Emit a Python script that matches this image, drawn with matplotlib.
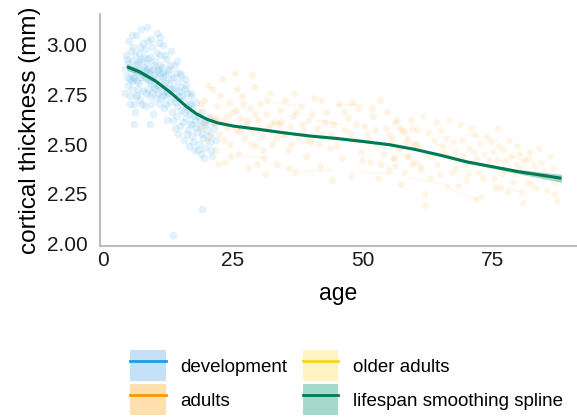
import matplotlib
matplotlib.use("Agg")
import matplotlib.pyplot as plt
from matplotlib.patches import Patch
from matplotlib.lines import Line2D
from matplotlib.legend_handler import HandlerTuple

plt.rcParams['font.family'] = ['Liberation Sans', 'DejaVu Sans']

# ---------------- data ----------------
dev_age = [4.2, 4.5, 4.8, 5.0, 5.1, 5.3, 5.5, 5.6, 5.8, 6.0, 6.1, 6.3, 6.4, 6.6, 6.7, 6.9, 7.0, 7.1, 7.3, 7.4,
           7.6, 7.7, 7.9, 8.0, 8.1, 8.3, 8.4, 8.6, 8.7, 8.8, 9.0, 9.1, 9.3, 9.4, 9.6, 9.7, 9.9, 10.0, 10.2, 10.3,
           10.5, 10.6, 10.8, 10.9, 11.1, 11.2, 11.4, 11.5, 11.7, 11.8, 12.0, 12.1, 12.3, 12.4, 12.6, 12.7, 12.9, 13.0, 13.2, 13.3,
           13.5, 13.6, 13.8, 13.9, 14.1, 14.2, 14.4, 14.5, 14.7, 14.8, 15.0, 15.1, 15.3, 15.4, 15.6, 15.7, 15.9, 16.0, 16.2, 16.3,
           16.5, 16.6, 16.8, 16.9, 17.1, 17.2, 17.4, 17.5, 17.7, 17.8, 18.0, 18.2, 18.4, 18.6, 18.8, 19.0, 19.2, 19.4, 19.7, 20.0,
           20.3, 20.6, 21.0, 21.4, 19.0, 13.5, 5.5, 8.5, 11.0, 6.0, 9.0, 7.2, 8.2, 10.4, 12.2, 6.8, 9.5, 11.6, 14.0, 5.2,
           4.3, 4.6, 4.9, 5.2, 5.4, 5.7, 5.9, 6.2, 6.5, 6.8, 7.2, 7.5, 7.8, 8.2, 8.5, 8.9, 9.2, 9.5, 9.8, 10.1,
           10.4, 10.7, 11.0, 11.3, 11.6, 11.9, 12.2, 12.5, 12.8, 13.1, 13.4, 13.7, 14.0, 14.3, 14.6, 14.9, 15.2, 15.5, 15.8, 16.1,
           16.4, 16.7, 17.0, 17.3, 17.6, 17.9, 18.3, 18.7, 19.1, 19.5, 19.9, 20.4, 20.8, 21.2, 21.8, 6.0, 7.0, 8.0, 9.0, 10.0,
           11.0, 12.0, 7.5, 8.7, 9.8, 6.5, 5.5, 10.5, 11.5, 12.5, 4.7, 6.3, 7.7, 9.3, 10.8, 12.9, 14.2, 15.0, 16.0, 17.0]
dev_ct = [2.88, 2.95, 2.80, 3.02, 2.70, 2.86, 2.92, 2.78, 2.99, 2.84, 2.66, 2.90, 3.05, 2.75, 2.87, 2.96, 2.81, 2.72, 2.93, 3.08,
          2.85, 2.77, 2.89, 2.98, 2.69, 2.83, 2.91, 3.02, 2.78, 2.86, 2.94, 2.74, 2.81, 2.99, 2.88, 2.65, 2.79, 2.92, 2.84, 3.06,
          2.76, 2.87, 2.70, 2.95, 2.82, 2.73, 2.89, 3.00, 2.79, 2.68, 2.85, 2.93, 2.75, 2.62, 2.81, 2.88, 2.71, 2.97, 2.78, 2.66,
          2.84, 2.73, 2.58, 2.90, 2.76, 2.69, 2.82, 2.55, 2.74, 2.86, 2.67, 2.79, 2.61, 2.72, 2.52, 2.83, 2.69, 2.63, 2.76, 2.57,
          2.70, 2.49, 2.65, 2.74, 2.60, 2.54, 2.68, 2.47, 2.62, 2.71, 2.56, 2.64, 2.50, 2.59, 2.45, 2.66, 2.53, 2.61, 2.48, 2.57,
          2.63, 2.51, 2.44, 2.58, 2.17, 2.04, 3.05, 3.09, 3.04, 2.60, 2.60, 2.84, 2.87, 2.80, 2.77, 2.91, 2.83, 2.86, 2.71, 2.83,
          2.76, 2.84, 2.91, 2.74, 2.97, 2.83, 2.70, 2.95, 2.82, 2.78, 2.99, 2.70, 2.94, 2.76, 2.88, 2.82, 3.03, 2.76, 2.85, 2.73,
          2.96, 2.80, 2.90, 2.77, 2.84, 2.95, 2.70, 2.87, 2.78, 2.83, 2.62, 2.79, 2.86, 2.64, 2.77, 2.59, 2.74, 2.66, 2.78, 2.55,
          2.67, 2.60, 2.70, 2.51, 2.64, 2.58, 2.47, 2.62, 2.55, 2.43, 2.60, 2.54, 2.47, 2.61, 2.52, 2.88, 2.92, 2.84, 2.87, 2.78,
          2.86, 2.81, 2.88, 2.93, 2.90, 2.86, 2.82, 2.88, 2.74, 2.76, 2.93, 2.74, 3.01, 2.70, 3.01, 2.90, 2.92, 2.85, 2.80, 2.76]

adult_age = [18.5, 19.0, 19.5, 20.0, 20.5, 21.0, 21.3, 21.7, 22.0, 22.4, 22.8, 23.1, 23.5, 23.8, 24.2, 24.5, 24.9, 25.3, 25.6, 26.0,
             26.4, 26.8, 27.1, 27.5, 27.9, 28.3, 28.7, 29.0, 29.4, 29.8, 30.2, 30.6, 31.0, 31.4, 31.8, 32.2, 32.6, 33.0, 33.5, 34.0,
             34.5, 35.0, 35.5, 36.0, 36.5, 37.0, 37.5, 38.0, 38.5, 39.0, 39.5, 40.0, 40.6, 41.2, 41.8, 42.4, 43.0, 43.6, 44.2, 44.8,
             45.4, 46.0, 46.6, 47.2, 47.8, 48.4, 49.0, 49.6, 50.2, 50.8, 51.4, 52.0, 52.6, 53.2, 53.8, 54.4, 55.0, 55.6, 56.2, 56.8,
             57.4, 58.0, 58.6, 59.2, 60.0, 61.0, 62.0, 28.6, 24.0, 21.5, 26.5, 33.8,
             18.8, 19.8, 20.8, 21.8, 22.6, 23.3, 24.0, 24.7, 25.5, 26.2, 27.0, 27.7, 28.5, 29.2, 30.0, 30.8, 31.6, 32.4, 33.2, 34.2,
             35.2, 36.2, 37.2, 38.2, 39.2, 40.3, 41.5, 42.7, 43.9, 45.1, 46.3, 47.5, 48.7, 49.9, 51.1, 52.3, 53.5, 54.7, 55.9, 57.1,
             58.3, 59.5, 60.5, 20.2, 22.2, 25.8, 31.2, 36.8, 42.0, 48.0, 51.8, 44.0, 35.8, 29.6, 53.0]
adult_ct = [2.66, 2.58, 2.72, 2.52, 2.64, 2.78, 2.60, 2.47, 2.69, 2.55, 2.83, 2.62, 2.41, 2.58, 2.71, 2.50, 2.66, 2.86, 2.57, 2.45,
            2.63, 2.74, 2.53, 2.60, 2.38, 2.68, 2.56, 2.79, 2.49, 2.62, 2.70, 2.54, 2.43, 2.65, 2.58, 2.76, 2.50, 2.61, 2.40, 2.67,
            2.55, 2.72, 2.47, 2.59, 2.64, 2.36, 2.53, 2.69, 2.57, 2.44, 2.62, 2.51, 2.73, 2.58, 2.39, 2.55, 2.66, 2.48, 2.60, 2.53,
            2.70, 2.43, 2.57, 2.63, 2.34, 2.52, 2.68, 2.46, 2.59, 2.55, 2.41, 2.64, 2.50, 2.72, 2.45, 2.58, 2.37, 2.53, 2.61, 2.48,
            2.30, 2.56, 2.44, 2.62, 2.50, 2.39, 2.19, 2.85, 2.64, 2.62, 2.58, 2.60,
            2.70, 2.61, 2.55, 2.63, 2.75, 2.52, 2.60, 2.44, 2.67, 2.56, 2.70, 2.62, 2.50, 2.65, 2.58, 2.47, 2.72, 2.60, 2.53, 2.61,
            2.55, 2.50, 2.66, 2.60, 2.52, 2.65, 2.50, 2.61, 2.55, 2.49, 2.66, 2.55, 2.60, 2.42, 2.52, 2.57, 2.40, 2.66, 2.43, 2.58,
            2.51, 2.40, 2.57, 2.80, 2.40, 2.78, 2.35, 2.76, 2.72, 2.71, 2.68, 2.32, 2.38, 2.40, 2.33]

older_age = [55.0, 55.8, 56.5, 57.2, 58.0, 58.7, 59.4, 60.1, 60.8, 61.5, 62.2, 62.9, 63.6, 64.3, 65.0, 65.6, 66.2, 66.8, 67.4, 68.0,
             68.6, 69.2, 69.8, 70.4, 71.0, 71.6, 72.2, 72.8, 73.4, 74.0, 74.6, 75.2, 75.8, 76.4, 77.0, 77.6, 78.2, 78.8, 79.4, 80.0,
             80.6, 81.2, 81.8, 82.4, 83.0, 83.8, 84.6, 85.5, 86.5, 87.3, 87.0,
             55.4, 56.1, 57.6, 58.4, 59.8, 61.1, 62.6, 63.2, 64.0, 64.8, 65.3, 66.0, 67.1, 67.8, 68.3, 69.0, 69.6, 70.2, 70.8, 71.3,
             72.0, 72.5, 73.1, 73.8, 74.3, 75.0, 75.5, 76.1, 76.8, 77.3, 78.0, 78.5, 79.1, 79.7, 80.3, 81.0, 81.5, 82.1, 82.8, 83.4,
             84.2, 85.0, 86.0, 86.8, 88.0, 66.5, 71.8, 76.0, 80.8, 62.0]
older_ct = [2.55, 2.43, 2.62, 2.48, 2.36, 2.53, 2.58, 2.41, 2.49, 2.64, 2.45, 2.33, 2.52, 2.40, 2.57, 2.46, 2.29, 2.43, 2.51, 2.38,
            2.60, 2.44, 2.32, 2.48, 2.41, 2.55, 2.36, 2.24, 2.45, 2.39, 2.51, 2.33, 2.42, 2.28, 2.47, 2.37, 2.52, 2.31, 2.40, 2.45,
            2.26, 2.36, 2.43, 2.30, 2.39, 2.48, 2.34, 2.27, 2.38, 2.21, 2.31,
            2.50, 2.39, 2.57, 2.44, 2.50, 2.37, 2.56, 2.44, 2.61, 2.35, 2.49, 2.53, 2.36, 2.46, 2.29, 2.52, 2.40, 2.35, 2.58, 2.46,
            2.43, 2.50, 2.33, 2.54, 2.42, 2.46, 2.28, 2.49, 2.35, 2.42, 2.26, 2.44, 2.35, 2.49, 2.38, 2.42, 2.31, 2.46, 2.35, 2.28,
            2.41, 2.36, 2.44, 2.25, 2.33, 2.62, 2.22, 2.58, 2.20, 2.25]

# longitudinal segments (start age, end age, start ct, end ct)
adult_seg_age0 = [45.0, 38.0, 33.0, 27.0, 50.0, 41.0]
adult_seg_age1 = [50.0, 44.0, 37.0, 31.0, 55.0, 46.0]
adult_seg_ct0 = [2.70, 2.36, 2.71, 2.44, 2.36, 2.62]
adult_seg_ct1 = [2.70, 2.37, 2.69, 2.43, 2.35, 2.60]
older_seg_age0 = [59.0, 70.0, 64.0, 75.0, 78.0, 67.0]
older_seg_age1 = [65.0, 76.0, 69.0, 80.0, 83.0, 72.0]
older_seg_ct0 = [2.33, 2.55, 2.50, 2.30, 2.44, 2.27]
older_seg_ct1 = [2.30, 2.52, 2.47, 2.26, 2.40, 2.22]

spline_age = [4.6, 7, 10, 13, 16, 18, 20, 22, 25, 30, 35, 40, 45, 50, 55, 60, 65, 70, 75, 80, 85, 88.2]
spline_ct = [2.89, 2.865, 2.82, 2.76, 2.69, 2.652, 2.625, 2.607, 2.591, 2.574, 2.556, 2.54, 2.528, 2.513,
             2.497, 2.473, 2.443, 2.41, 2.385, 2.36, 2.34, 2.327]
spline_se = [0.018, 0.012, 0.008, 0.007, 0.007, 0.006, 0.006, 0.005, 0.005, 0.005, 0.005, 0.005, 0.005, 0.005,
             0.005, 0.005, 0.006, 0.007, 0.008, 0.011, 0.016, 0.021]

labels = ["development", "adults", "older adults", "lifespan smoothing spline"]
line_colors = ["#1E9BE9", "#F59B00", "#FFD21F", "#007A55"]
fill_colors = ["#C5E1F7", "#FFDFAE", "#FFF3C4", "#A5D9CC"]
point_colors = ["#56B4E9", "#FFA533", "#FFB84D"]

# ---------------- figure ----------------
fig = plt.figure(figsize=(5.77, 4.18), dpi=100)
ax = fig.add_axes([100 / 577, 1 - 246 / 418, 1 - 100 / 577, (246 - 14.5) / 418])

for a0, a1, c0, c1 in zip(adult_seg_age0, adult_seg_age1, adult_seg_ct0, adult_seg_ct1):
    ax.plot([a0, a1], [c0, c1], color=point_colors[1], alpha=0.12, lw=1)
for a0, a1, c0, c1 in zip(older_seg_age0, older_seg_age1, older_seg_ct0, older_seg_ct1):
    ax.plot([a0, a1], [c0, c1], color=point_colors[2], alpha=0.12, lw=1)

ax.scatter(adult_age, adult_ct, s=24, color=point_colors[1], alpha=0.13, linewidths=0)
ax.scatter(older_age, older_ct, s=24, color=point_colors[2], alpha=0.13, linewidths=0)
ax.scatter(dev_age, dev_ct, s=32, color=point_colors[0], alpha=0.16, linewidths=0)

lo = [c - s for c, s in zip(spline_ct, spline_se)]
hi = [c + s for c, s in zip(spline_ct, spline_se)]
ax.fill_between(spline_age, lo, hi, color="#2EA585", alpha=0.4, linewidth=0)
ax.plot(spline_age, spline_ct, color=line_colors[3], lw=2.2, solid_capstyle='butt', solid_joinstyle='round')

ax.set_xlim(-0.58, 91.2)
ax.set_ylim(1.985, 3.154)
ax.set_xticks([0, 25, 50, 75])
ax.set_yticks([2.00, 2.25, 2.50, 2.75, 3.00])
ax.set_yticklabels(["2.00", "2.25", "2.50", "2.75", "3.00"])
ax.tick_params(length=0, labelsize=15, colors="#1a1a1a")
ax.tick_params(axis='x', pad=3.5)
ax.tick_params(axis='y', pad=9)
for s in ["top", "right"]:
    ax.spines[s].set_visible(False)
for s in ["left", "bottom"]:
    ax.spines[s].set_color("#BDBDBD")
    ax.spines[s].set_linewidth(1.5)
ax.set_xlabel("age", fontsize=16.5, labelpad=9)
ax.set_ylabel("cortical thickness (mm)", fontsize=17.5, labelpad=4)

handles = []
for lc, fc in zip(line_colors, fill_colors):
    handles.append((Patch(facecolor=fc, edgecolor='none'), Line2D([], [], color=lc, lw=2)))
fig.legend(handles, labels, ncol=2, loc='upper left', bbox_to_anchor=(130 / 577, 1 - 350 / 418),
           frameon=False, borderpad=0, borderaxespad=0, fontsize=13.5,
           handlelength=1.9, handleheight=2.2, handletextpad=0.76, columnspacing=0.85, labelspacing=0.14,
           handler_map={tuple: HandlerTuple(ndivide=1, pad=0)})

fig.savefig("out.png", dpi=100)
